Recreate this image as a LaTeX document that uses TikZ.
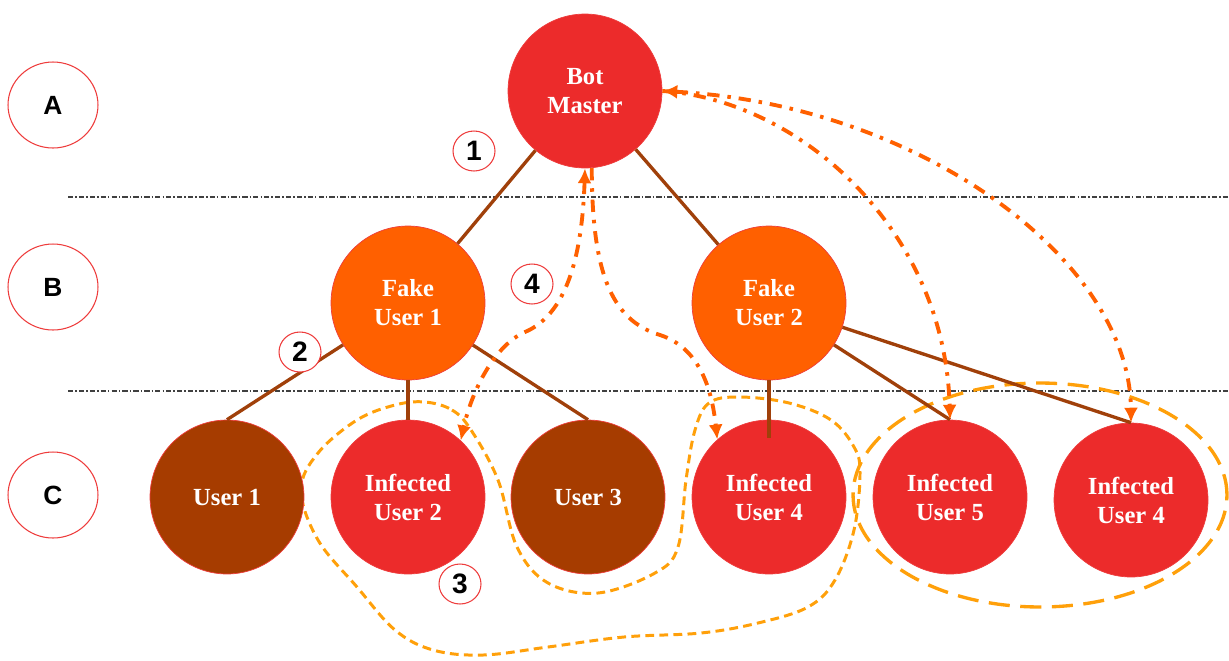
\documentclass[tikz,border=0pt]{standalone}
\usepackage{fontspec}
\setmainfont{Liberation Serif}
\setsansfont{Liberation Sans}
\usetikzlibrary{arrows.meta}
\usetikzlibrary{shapes.geometric}
\definecolor{mred}{RGB}{236,43,43}
\definecolor{morange}{RGB}{255,96,0}
\definecolor{mbrown}{RGB}{166,60,0}
\definecolor{medge}{RGB}{160,64,10}
\definecolor{myellow}{RGB}{255,160,10}
\definecolor{mline}{RGB}{238,60,60}
\tikzset{peer/.style = {circle, draw=mline, line width=0.4pt, minimum size=3.08cm,
                        inner sep=0pt, align=center, text=white,
                        font=\bfseries\fontsize{14}{16.5}\selectfont},
         layer/.style = {ellipse, draw=mline, fill=white, line width=0.6pt,
                         minimum width=1.8cm, minimum height=1.72cm,
                         font=\sffamily\bfseries\fontsize{15}{18}\selectfont},
         num/.style = {ellipse, draw=mline, fill=white, line width=0.6pt, inner sep=0pt,
                       minimum width=0.84cm, minimum height=0.8cm,
                       font=\sffamily\bfseries\fontsize{16}{18}\selectfont},
         link/.style = {draw=medge, line width=1.9pt},
         level/.style = {black!75, line width=0.6pt,
                         dash pattern=on 3pt off 1.2pt on 0.8pt off 1.2pt},
         flow/.style = {morange, line width=2.2pt,
                        dash pattern=on 7pt off 4.5pt on 2pt off 4.5pt,
                        >={Latex[length=8.5pt,width=8pt]}},
         yloop/.style = {myellow, line width=1.7pt, dash pattern=on 5pt off 3pt},
         yring/.style = {myellow, line width=1.9pt, dash pattern=on 12pt off 6pt}}

\begin{document}
\begin{tikzpicture}[x=0.02cm, y=-0.02cm]
  \useasboundingbox (0,0) rectangle (1229,660);
  % levels
  \draw[level] (68,197) -- (1229,197);
  \draw[level] (68,391) -- (1229,391);
  \node[layer] (la) at (53,105) {A};
  \node[layer] (lb) at (53,287) {B};
  \node[layer] (lc) at (53,495) {C};

  % groups of infected users
  \draw[yloop] plot[smooth cycle, tension=0.6] coordinates {(425,402) (452,410) (471,430)
    (498,480) (517,547) (548,583) (598,593) (655,573) (678,547) (686,480) (695,430)
    (709,403) (739,397) (789,403) (831,420) (854,447) (860,473) (854,530) (835,580)
    (808,607) (758,623) (701,633) (624,637) (548,647) (483,655) (433,650) (395,630)
    (357,587) (318,540) (301,490) (318,453) (357,420) (395,405)};
  \draw[yring] (1040,495) ellipse [x radius=3.74cm, y radius=2.24cm];

  % botnet
  \node[peer, fill=mred] (bm) at (585,91) {Bot\\Master};
  \node[peer, fill=morange] (f1) at (408,303) {Fake\\User 1};
  \node[peer, fill=morange] (f2) at (769,303) {Fake\\User 2};
  \node[peer, fill=mbrown] (u1) at (227,497) {User 1};
  \node[peer, fill=mred] (iu2) at (408,497) {Infected\\User 2};
  \node[peer, fill=mbrown] (u3) at (588,497) {User 3};
  \node[peer, fill=mred] (iu4) at (769,497) {Infected\\User 4};
  \node[peer, fill=mred] (iu5) at (950,497) {Infected\\User 5};
  \node[peer, fill=mred] (iu6) at (1131,500) {Infected\\User 4};

  \draw[link] (bm) -- (f1);
  \draw[link] (bm) -- (f2);
  \draw[link] (f1) -- (u1.north);
  \draw[link] (f1) -- (iu2);
  \draw[link] (f1) -- (u3.north);
  \draw[link] (f2) -- ([yshift=-0.36cm]iu4.north);
  \draw[link] (f2) -- (iu5.north);
  \draw[link] (f2) -- (iu6.north);

  % steps
  \node[num] (n1) at (474,151) {1};
  \node[num] (n2) at (300,352) {2};
  \node[num] (n3) at (460,584) {3};
  \node[num] (n4) at (532,284) {4};

  % commands
  \draw[flow, <->] (bm.270) .. controls (582,260) and (565,315) .. (525,332)
    .. controls (495,345) and (472,390) .. (iu2.47);
  \draw[flow, ->] (bm.275) .. controls (592,270) and (610,320) .. (660,335)
    .. controls (700,348) and (712,390) .. (iu4.132);
  \draw[flow, ->] (bm.0) .. controls (800,100) and (945,230) .. (iu5.90);
  \draw[flow, <->] (bm.0) .. controls (920,105) and (1130,260) .. (iu6.90);
\end{tikzpicture}
\end{document}
